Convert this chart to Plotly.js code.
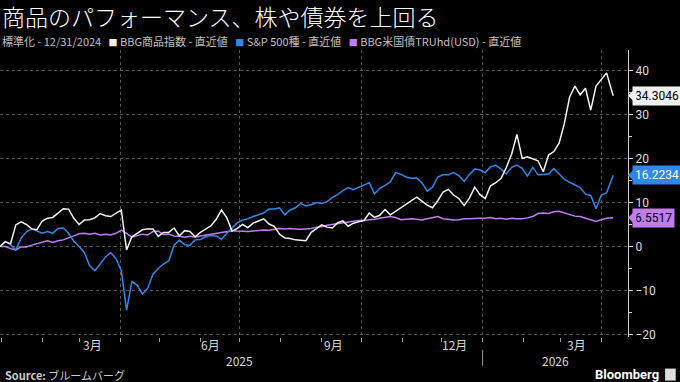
<!DOCTYPE html>
<html><head><meta charset="utf-8">
<script src="https://cdn.plot.ly/plotly-3.0.1.min.js"></script>
<style>html,body{margin:0;padding:0;background:#000;}#chart{width:680px;height:382px;}</style>
</head><body><div id="chart"></div>
<script>
const dates = ['2024-12-31','2025-01-04','2025-01-08','2025-01-12','2025-01-16','2025-01-20','2025-01-24','2025-01-28','2025-02-01','2025-02-05','2025-02-09','2025-02-13','2025-02-17','2025-02-21','2025-02-25','2025-03-01','2025-03-05','2025-03-09','2025-03-13','2025-03-17','2025-03-21','2025-03-25','2025-03-29','2025-04-02','2025-04-06','2025-04-10','2025-04-14','2025-04-18','2025-04-22','2025-04-26','2025-04-30','2025-05-04','2025-05-08','2025-05-12','2025-05-16','2025-05-20','2025-05-24','2025-05-28','2025-06-01','2025-06-05','2025-06-09','2025-06-13','2025-06-17','2025-06-21','2025-06-25','2025-06-29','2025-07-03','2025-07-07','2025-07-11','2025-07-15','2025-07-19','2025-07-23','2025-07-27','2025-07-31','2025-08-04','2025-08-08','2025-08-12','2025-08-16','2025-08-20','2025-08-24','2025-08-28','2025-09-01','2025-09-05','2025-09-09','2025-09-13','2025-09-17','2025-09-21','2025-09-25','2025-09-29','2025-10-03','2025-10-07','2025-10-11','2025-10-15','2025-10-19','2025-10-23','2025-10-27','2025-10-31','2025-11-04','2025-11-08','2025-11-12','2025-11-16','2025-11-20','2025-11-24','2025-11-28','2025-12-02','2025-12-06','2025-12-10','2025-12-14','2025-12-18','2025-12-22','2025-12-26','2025-12-30','2026-01-03','2026-01-07','2026-01-11','2026-01-15','2026-01-19','2026-01-23','2026-01-27','2026-01-31','2026-02-04','2026-02-08','2026-02-12','2026-02-16','2026-02-20','2026-02-24','2026-02-28','2026-03-04','2026-03-08','2026-03-12','2026-03-16','2026-03-20','2026-03-24','2026-03-28','2026-04-01','2026-04-05','2026-04-10'];
const commodity = [0,1.1,0.6,4.9,5.6,5.0,4.0,3.8,5.8,6.4,6.6,7.6,8.6,8.5,6.4,5.0,6.0,6.1,6.5,7.5,7.0,6.8,7.5,8.3,-0.8,2.2,3.0,3.8,4.0,4.0,2.3,3.2,3.2,4.2,2.4,3.6,3.4,2.2,3.2,4.0,4.7,6.2,8.3,6.5,3.5,4.1,5.0,4.3,5.3,5.8,6.3,5.1,4.6,2.8,1.9,1.8,1.5,1.4,1.3,3.2,4.0,4.9,4.4,4.2,5.4,5.8,4.6,5.3,5.6,5.9,7.6,6.6,7.1,8.4,7.2,8.0,8.9,9.6,10.5,11.2,10.3,9.4,8.8,10.4,12.4,13.0,11.7,10.9,9.3,11.0,13.5,11.8,10.9,13.8,14.5,15.5,18.0,21.0,25.5,20.0,20.4,20.0,19.5,17.0,20.8,21.6,23.5,28.0,34.0,36.5,34.5,36.0,31.0,36.5,38.0,39.5,34.3046];
const sp500 = [0,1.1,0.4,-0.8,1.9,3.3,4.0,3.5,3.0,3.4,3.0,4.1,4.2,3.0,1.2,0.0,-1.4,-4.4,-5.5,-4.0,-2.4,-1.4,-2.8,-5.5,-14.5,-8.0,-8.8,-10.8,-9.5,-6.3,-5.0,-4.0,-3.3,0.3,1.4,0.4,0.3,1.5,1.6,2.2,2.5,2.4,1.6,3.0,4.1,5.4,6.0,6.3,6.8,7.2,7.6,8.5,8.5,8.8,7.2,8.3,8.8,9.8,9.2,9.5,10.0,9.8,10.2,11.1,11.8,12.7,13.4,12.9,13.4,14.0,14.5,12.0,13.2,13.9,14.7,16.8,16.4,15.8,15.5,15.6,14.5,12.6,13.5,15.8,16.3,16.3,16.8,16.1,14.8,16.4,17.6,17.4,16.8,18.1,18.5,17.6,16.5,18.0,18.5,17.8,16.0,18.0,16.3,16.4,16.5,17.7,16.6,15.3,14.6,14.0,13.4,11.9,11.6,8.6,11.7,12.2,16.2234];
const treasury = [0,0,-0.5,-0.8,-0.1,-0.1,0.3,0.6,0.9,1.3,0.9,1.3,1.5,1.9,2.4,2.9,3.0,2.8,3.0,2.6,2.8,2.6,3.0,3.7,3.0,2.1,2.5,2.8,2.6,3.4,3.5,2.7,2.8,2.4,2.3,2.1,2.3,2.1,2.4,2.6,2.8,3.0,3.1,3.4,3.6,3.5,3.4,3.4,3.5,3.7,3.75,3.7,3.9,4.1,4.0,4.1,4.0,3.9,4.0,4.1,4.4,4.5,4.8,5.0,5.2,5.4,5.6,5.7,5.9,5.9,6.0,6.2,6.4,6.6,6.8,6.6,6.1,6.2,6.3,6.2,6.0,6.3,6.5,6.8,6.3,6.1,6.0,6.1,6.3,6.3,6.4,6.4,6.4,6.6,6.3,6.4,6.2,6.4,6.3,6.3,6.5,6.8,7.5,7.6,7.5,7.9,8.0,7.6,7.2,6.9,6.8,6.4,6.1,5.7,6.1,6.4,6.5517];

const seriesNames = ['BBG商品指数 - 直近値','S&P 500種 - 直近値','BBG米国債TRUhd(USD) - 直近値'];
const seriesColors = ['#f2f2f2','#2f87e6','#c07cf0'];
const tagTextColors = ['#000000','#ffffff','#000000'];
const monthTickDates = ['2025-03-11','2025-06-09','2025-09-10','2025-12-11','2026-03-13'];
const monthTickText = ['3月','6月','9月','12月','3月'];
const yearLabelDates = ['2025-07-01','2026-02-25'];
const yearLabelText = ['2025','2026'];
const quarterGridDates = ['2025-04-01','2025-07-01','2025-10-01','2026-01-01','2026-04-01'];
const yTicks = [-20,-10,0,10,20,30,40];

const seriesValues = [commodity, sp500, treasury];
const drawOrder = [2,1,0];
const traces = drawOrder.map(i => ({
  type:'scatter', mode:'lines', x: dates, y: seriesValues[i], name: seriesNames[i],
  line:{color: seriesColors[i], width:1.5}, hoverinfo:'skip'
}));

const annotations = [];
annotations.push({xref:'paper', yref:'paper', x:0.002, y:1.12, xanchor:'left', yanchor:'middle', showarrow:false,
  borderpad:0, text:'商品のパフォーマンス、株や債券を上回る', font:{size:23, color:'#ffffff', family:'Noto Sans CJK JP', weight:300}});
const legendText = '標準化 - 12/31/2024 &nbsp; ' + seriesNames.map((n,i)=>'<span style="color:'+seriesColors[i]+';font-size:9px">■</span> '+n).join(' &nbsp; ');
annotations.push({xref:'paper', yref:'paper', x:0.002, y:1.03, xanchor:'left', yanchor:'middle', showarrow:false,
  borderpad:0, text: legendText, font:{size:11, color:'#c0c0c0', family:'Noto Sans CJK JP'}});
monthTickDates.forEach((d,i)=>annotations.push({xref:'x', yref:'paper', x:d, y:-0.027, yanchor:'middle', showarrow:false,
  text: monthTickText[i], font:{size:12, color:'#d8d8d8', family:'Noto Sans CJK JP'}}));
yearLabelDates.forEach((d,i)=>annotations.push({xref:'x', yref:'paper', x:d, y:-0.083, yanchor:'middle', showarrow:false,
  text: yearLabelText[i], font:{size:12, color:'#d8d8d8', family:'Noto Sans CJK JP'}}));
annotations.push({xref:'paper', yref:'paper', x:0.004, y:-0.132, xanchor:'left', yanchor:'middle', showarrow:false,
  text:'<b>Source:</b> ブルームバーグ', font:{size:11, color:'#cccccc', family:'Noto Sans CJK JP'}});
annotations.push({xref:'paper', yref:'paper', x:1.0525, y:-0.132, xanchor:'right', yanchor:'middle', showarrow:false,
  text:'<b>Bloomberg</b>', font:{size:13, color:'#ffffff', family:'Roboto'}});
[0,1,2].forEach(i=>{
  const v = seriesValues[i][seriesValues[i].length-1];
  annotations.push({xref:'paper', yref:'y', x:1, y:v, xanchor:'left', yanchor:'middle', showarrow:true,
    ax:4, ay:0, arrowhead:1, arrowsize:2.8, arrowwidth:1, arrowcolor:seriesColors[i], standoff:0,
    text: String(v), bgcolor: seriesColors[i], borderpad:2,
    font:{size:12, color: tagTextColors[i], family:'Roboto'}});
});

const layout = {
  width:680, height:382,
  margin:{l:0, r:52, t:50, b:45},
  paper_bgcolor:'#000000', plot_bgcolor:'#000000',
  showlegend:false,
  font:{family:'Noto Sans CJK JP, Roboto, sans-serif', color:'#d8d8d8'},
  xaxis:{type:'date', range:['2024-12-31','2026-04-21 06:00'], tickmode:'array', tickvals:quarterGridDates,
    showticklabels:false, ticks:'outside', ticklen:4, tickcolor:'#999999',
    showgrid:true, gridcolor:'#555555', griddash:'dot', gridwidth:1, zeroline:false, showline:false,
    minor:{dtick:'M1', tick0:'2025-01-01', ticks:'outside', ticklen:4, tickcolor:'#999999', showgrid:false}},
  yaxis:{side:'right', range:[-20.6,44.7], tickmode:'array', tickvals:yTicks,
    ticks:'outside', ticklen:4, tickcolor:'#cccccc', showline:true, linecolor:'#cccccc', linewidth:1,
    showgrid:true, gridcolor:'#555555', griddash:'dot', zeroline:false,
    tickfont:{size:12, color:'#dddddd', family:'Roboto'},
    minor:{dtick:5, ticks:'outside', ticklen:3, tickcolor:'#cccccc', showgrid:false}},
  shapes:[
    {type:'line', xref:'x', yref:'paper', x0:'2026-01-01', x1:'2026-01-01', y0:-0.045, y1:-0.1, line:{color:'#999999', width:1}},
    {type:'rect', xref:'paper', yref:'paper', x0:1.059, x1:1.076, y0:-0.152, y1:-0.11, fillcolor:'#dddddd', line:{width:0}}
  ],
  annotations: annotations
};
Plotly.newPlot('chart', traces, layout, {staticPlot:true, displayModeBar:false});
</script></body></html>
